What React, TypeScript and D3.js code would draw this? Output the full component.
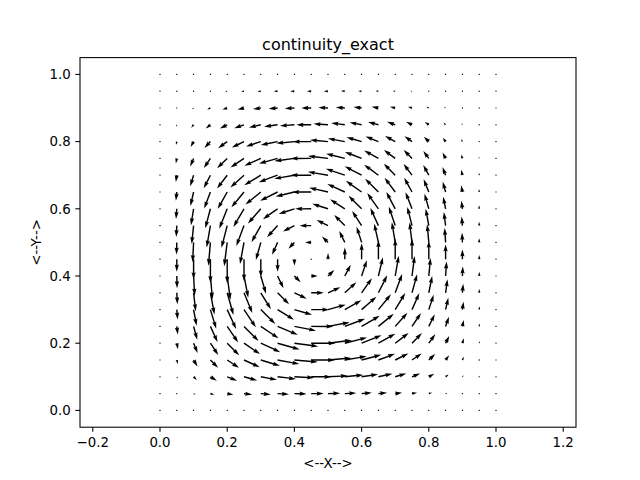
import React from 'react';
import * as d3 from 'd3';

const TITLE = 'continuity_exact';
const X_LABEL = '<--X-->';
const Y_LABEL = '<--Y-->';

const XS = [0, 0.05, 0.1, 0.15, 0.2, 0.25, 0.3, 0.35, 0.4, 0.45, 0.5, 0.55, 0.6, 0.65, 0.7, 0.75, 0.8, 0.85, 0.9, 0.95, 1.0];
const YS = [0, 0.05, 0.1, 0.15, 0.2, 0.25, 0.3, 0.35, 0.4, 0.45, 0.5, 0.55, 0.6, 0.65, 0.7, 0.75, 0.8, 0.85, 0.9, 0.95, 1.0];

const X_TICKS = [-0.2, 0, 0.2, 0.4, 0.6, 0.8, 1.0, 1.2];
const Y_TICKS = [0, 0.2, 0.4, 0.6, 0.8, 1.0];

// velocity components (units of 1e-5), rows = YS, columns = XS
const U: number[][] = [
  [0,0,0,0,0,0,0,0,0,0,0,0,0,0,0,0,0,0,0,0,0],
  [0,18,64,125,192,256,311,354,380,389,381,356,318,270,215,158,104,58,24,5,0],
  [0,30,103,202,310,414,504,573,615,629,616,576,514,437,347,255,169,94,39,8,0],
  [0,35,122,240,368,491,597,678,729,745,730,683,610,517,411,303,200,112,47,10,0],
  [0,36,125,244,374,500,608,691,742,759,743,695,621,527,419,308,204,114,47,10,0],
  [0,32,114,223,341,455,554,630,676,692,677,634,566,480,382,281,186,104,43,9,0],
  [0,27,93,182,279,372,452,514,552,565,553,517,462,392,312,229,152,85,35,7,0],
  [0,19,65,127,195,260,316,359,386,395,387,362,323,274,218,160,106,59,25,5,0],
  [0,9,33,65,100,133,162,184,197,202,198,185,165,140,111,82,54,30,13,3,0],
  [0,0,0,1,1,1,2,2,2,2,2,2,2,1,1,1,1,0,0,0,0],
  [0,-9,-31,-61,-94,-125,-153,-173,-186,-191,-187,-175,-156,-132,-105,-77,-51,-29,-12,-2,0],
  [0,-17,-60,-117,-179,-239,-290,-330,-354,-362,-355,-332,-296,-251,-200,-147,-97,-54,-23,-5,0],
  [0,-24,-82,-161,-247,-330,-402,-456,-490,-501,-491,-459,-410,-348,-277,-203,-135,-75,-31,-6,0],
  [0,-28,-98,-193,-295,-394,-480,-545,-585,-599,-586,-548,-490,-415,-330,-243,-161,-90,-37,-8,0],
  [0,-30,-106,-207,-318,-424,-517,-587,-630,-645,-631,-591,-527,-447,-356,-262,-173,-97,-40,-8,0],
  [0,-30,-105,-205,-315,-420,-511,-580,-623,-638,-624,-584,-521,-443,-352,-259,-171,-96,-40,-8,0],
  [0,-27,-95,-186,-284,-380,-462,-525,-564,-577,-564,-528,-471,-400,-318,-234,-155,-87,-36,-7,0],
  [0,-22,-76,-148,-227,-304,-369,-420,-451,-461,-451,-422,-377,-320,-254,-187,-124,-69,-29,-6,0],
  [0,-14,-50,-99,-151,-202,-246,-279,-300,-307,-300,-281,-251,-213,-169,-125,-82,-46,-19,-4,0],
  [0,-6,-22,-43,-66,-88,-107,-122,-131,-134,-131,-122,-109,-93,-74,-54,-36,-20,-8,-2,0],
  [0,0,0,0,0,0,0,0,0,0,0,0,0,0,0,0,0,0,0,0,0],
];

const V: number[][] = [
  [0,0,0,0,0,0,0,0,0,0,0,0,0,0,0,0,0,0,0,0,0],
  [0,-18,-30,-35,-36,-32,-27,-19,-9,0,9,17,24,28,30,30,27,22,14,6,0],
  [0,-64,-103,-122,-125,-114,-93,-65,-33,0,31,60,82,98,106,105,95,76,50,22,0],
  [0,-125,-202,-240,-244,-223,-182,-127,-65,-1,61,117,161,193,207,205,186,148,99,43,0],
  [0,-192,-310,-368,-374,-341,-279,-195,-100,-1,94,179,247,295,318,315,284,227,151,66,0],
  [0,-256,-414,-491,-500,-455,-372,-260,-133,-1,125,239,330,394,424,420,380,304,202,88,0],
  [0,-311,-504,-597,-608,-554,-452,-316,-162,-2,153,290,402,480,517,511,462,369,246,107,0],
  [0,-354,-573,-678,-691,-630,-514,-359,-184,-2,173,330,456,545,587,580,525,420,279,122,0],
  [0,-380,-615,-729,-742,-676,-552,-386,-197,-2,186,354,490,585,630,623,564,451,300,131,0],
  [0,-389,-629,-745,-759,-692,-565,-395,-202,-2,191,362,501,599,645,638,577,461,307,134,0],
  [0,-381,-616,-730,-743,-677,-553,-387,-198,-2,187,355,491,586,631,624,564,451,300,131,0],
  [0,-356,-576,-683,-695,-634,-517,-362,-185,-2,175,332,459,548,591,584,528,422,281,122,0],
  [0,-318,-514,-610,-621,-566,-462,-323,-165,-2,156,296,410,490,527,521,471,377,251,109,0],
  [0,-270,-437,-517,-527,-480,-392,-274,-140,-1,132,251,348,415,447,443,400,320,213,93,0],
  [0,-215,-347,-411,-419,-382,-312,-218,-111,-1,105,200,277,330,356,352,318,254,169,74,0],
  [0,-158,-255,-303,-308,-281,-229,-160,-82,-1,77,147,203,243,262,259,234,187,125,54,0],
  [0,-104,-169,-200,-204,-186,-152,-106,-54,-1,51,97,135,161,173,171,155,124,82,36,0],
  [0,-58,-94,-112,-114,-104,-85,-59,-30,0,29,54,75,90,97,96,87,69,46,20,0],
  [0,-24,-39,-47,-47,-43,-35,-25,-13,0,12,23,31,37,40,40,36,29,19,8,0],
  [0,-5,-8,-10,-10,-9,-7,-5,-3,0,2,5,6,8,8,8,7,6,4,2,0],
  [0,0,0,0,0,0,0,0,0,0,0,0,0,0,0,0,0,0,0,0,0],
];

const W = 640, H = 480;
const L = 80, R = 576, T = 57.6, B = 427.2;
const FONT = 'DejaVu Sans, sans-serif';

// quiver styling (matplotlib defaults)
const PX_PER_UNIT = 0.032;
const SHAFT_W = (0.06 * (R - L)) / 21; // px
const HEAD_W = 3, HEAD_L = 5, HEAD_AX = 4.5, MIN_SHAFT = 1, MIN_LEN = 1;

function arrowPoints(lenPx: number): [number, number][] {
  const len = lenPx / SHAFT_W; // in shaft-width units
  let pts: [number, number][];
  if (len < MIN_LEN) {
    pts = [];
    for (let k = 0; k < 8; k++) {
      const th = (k * Math.PI) / 3;
      pts.push([Math.cos(th) * MIN_LEN * 0.5, Math.sin(th) * MIN_LEN * 0.5]);
    }
  } else {
    const minsh = MIN_SHAFT * HEAD_L;
    let xs: number[], ys: number[];
    if (len < minsh) {
      const s = len / minsh;
      xs = [0, minsh - HEAD_AX, minsh - HEAD_L, minsh].map((v) => v * s);
      ys = [0.5, 0.5, 0.5 * HEAD_W, 0].map((v) => v * s);
    } else {
      xs = [0, len - HEAD_AX, len - HEAD_L, len];
      ys = [0.5, 0.5, 0.5 * HEAD_W, 0];
    }
    const ii = [0, 1, 2, 3, 2, 1, 0];
    pts = ii.map((idx, k) => [xs[idx], k >= 3 ? -ys[idx] : ys[idx]] as [number, number]);
  }
  return pts.map(([a, b]) => [a * SHAFT_W, b * SHAFT_W] as [number, number]);
}

export default function App() {
  const xs = d3.scaleLinear().domain([0.5 - 248 / 336, 0.5 + 248 / 336]).range([L, R]);
  const ys = d3.scaleLinear().domain([-0.05, 1.05]).range([B, T]);
  const fmt = (v: number) => d3.format('.1f')(v).replace('-', '\u2212');

  const arrows: { d: string; key: string }[] = [];
  YS.forEach((yv, j) => {
    XS.forEach((xv, i) => {
      const u = U[j][i];
      const v = V[j][i];
      const mag = Math.hypot(u, v);
      const ang = Math.atan2(-v, u);
      const pts = arrowPoints(mag * PX_PER_UNIT);
      const cx = xs(xv), cy = ys(yv);
      const c = Math.cos(ang), s = Math.sin(ang);
      const d =
        'M' +
        pts
          .map(([a, b]) => `${(cx + a * c - b * s).toFixed(2)},${(cy + a * s + b * c).toFixed(2)}`)
          .join('L') +
        'Z';
      arrows.push({ d, key: `${i}-${j}` });
    });
  });

  return (
    <svg
      width={W}
      height={H}
      viewBox={`0 0 ${W} ${H}`}
      style={{ position: 'absolute', left: 0, top: 0, background: '#fff' }}
      fontFamily={FONT}
    >
      <rect x={0} y={0} width={W} height={H} fill="#fff" />
      <g>
        {arrows.map((a) => (
          <path key={a.key} d={a.d} fill="#000" stroke="none" />
        ))}
      </g>
      <rect x={L} y={T} width={R - L} height={B - T} fill="none" stroke="#000" strokeWidth={1.07} />
      {X_TICKS.map((t) => (
        <g key={'x' + t}>
          <line x1={xs(t)} x2={xs(t)} y1={B} y2={B + 4.67} stroke="#000" strokeWidth={1.07} />
          <text x={xs(t)} y={447.3} textAnchor="middle" fontSize={13.33} fill="#000">
            {fmt(t)}
          </text>
        </g>
      ))}
      {Y_TICKS.map((t) => (
        <g key={'y' + t}>
          <line x1={L - 4.67} x2={L} y1={ys(t)} y2={ys(t)} stroke="#000" strokeWidth={1.07} />
          <text x={70.7} y={ys(t) + 4.8} textAnchor="end" fontSize={13.33} fill="#000">
            {fmt(t)}
          </text>
        </g>
      ))}
      <text x={(L + R) / 2} y={49.6} textAnchor="middle" fontSize={16} fill="#000">
        {TITLE}
      </text>
      <text x={(L + R) / 2} y={468} textAnchor="middle" fontSize={13.33} fill="#000">
        {X_LABEL}
      </text>
      <text
        transform={`translate(41, ${(T + B) / 2}) rotate(-90)`}
        textAnchor="middle"
        fontSize={13.33}
        fill="#000"
      >
        {Y_LABEL}
      </text>
    </svg>
  );
}
